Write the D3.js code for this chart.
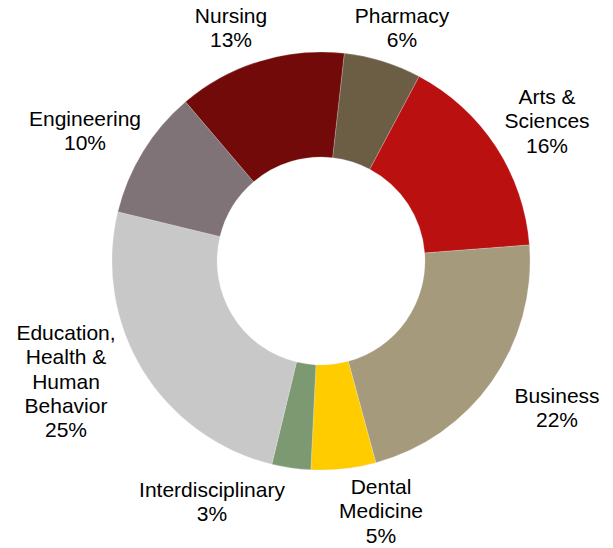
<!DOCTYPE html>
<html>
<head>
<meta charset="utf-8">
<script src="https://cdn.jsdelivr.net/npm/d3@7"></script>
<style>
  html, body { margin: 0; padding: 0; background: #fff; }
  svg { display: block; }
  text { font-family: "Liberation Sans", Arial, sans-serif; font-size: 21px; fill: #000; }
</style>
</head>
<body>
<svg id="chart" width="613" height="548"></svg>
<script>
// ---- data ----
const categories = ["Pharmacy", "Arts & Sciences", "Business", "Dental Medicine", "Interdisciplinary", "Education, Health & Human Behavior", "Engineering", "Nursing"];
const values = [6, 16, 22, 5, 3, 25, 10, 13];
const percentLabels = ["6%", "16%", "22%", "5%", "3%", "25%", "10%", "13%"];
const labelLines = [
  ["Pharmacy"],
  ["Arts &", "Sciences"],
  ["Business"],
  ["Dental", "Medicine"],
  ["Interdisciplinary"],
  ["Education,", "Health &", "Human", "Behavior"],
  ["Engineering"],
  ["Nursing"]
];
const colors = ["#6B5E45", "#BA1010", "#A59A7C", "#FFCC00", "#7C9972", "#C8C8C8", "#807378", "#720A0A"];

// ---- layout ----
const cx = 321, cy = 261, outerR = 209, innerR = 104;
const startDeg = 6.4;
// label anchor (center x, first baseline y)
const labelPos = [
  [402, 23], [547, 104], [557, 403], [381, 494],
  [212, 497], [66, 340], [85, 126], [231, 23]
];
const lineH = 24.3;

const svg = d3.select("#chart");
const g = svg.append("g").attr("transform", `translate(${cx},${cy})`);

const start = startDeg * Math.PI / 180;
const pie = d3.pie().sort(null).value(d => d).startAngle(start).endAngle(start + 2 * Math.PI);
const arc = d3.arc().innerRadius(innerR).outerRadius(outerR);
const color = d3.scaleOrdinal().domain(categories).range(colors);

g.selectAll("path.slice")
  .data(pie(values))
  .join("path")
  .attr("class", "slice")
  .attr("d", arc)
  .attr("fill", (d, i) => color(categories[i]))
  .attr("stroke", "#e8e8e8")
  .attr("stroke-width", 0.25);

const labels = svg.append("g");
categories.forEach((c, i) => {
  const lines = labelLines[i].concat([percentLabels[i]]);
  const t = labels.append("text")
    .attr("text-anchor", "middle")
    .attr("x", labelPos[i][0])
    .attr("y", labelPos[i][1]);
  lines.forEach((ln, j) => {
    t.append("tspan")
      .attr("x", labelPos[i][0])
      .attr("y", labelPos[i][1] + j * lineH)
      .text(ln);
  });
});
</script>
</body>
</html>
